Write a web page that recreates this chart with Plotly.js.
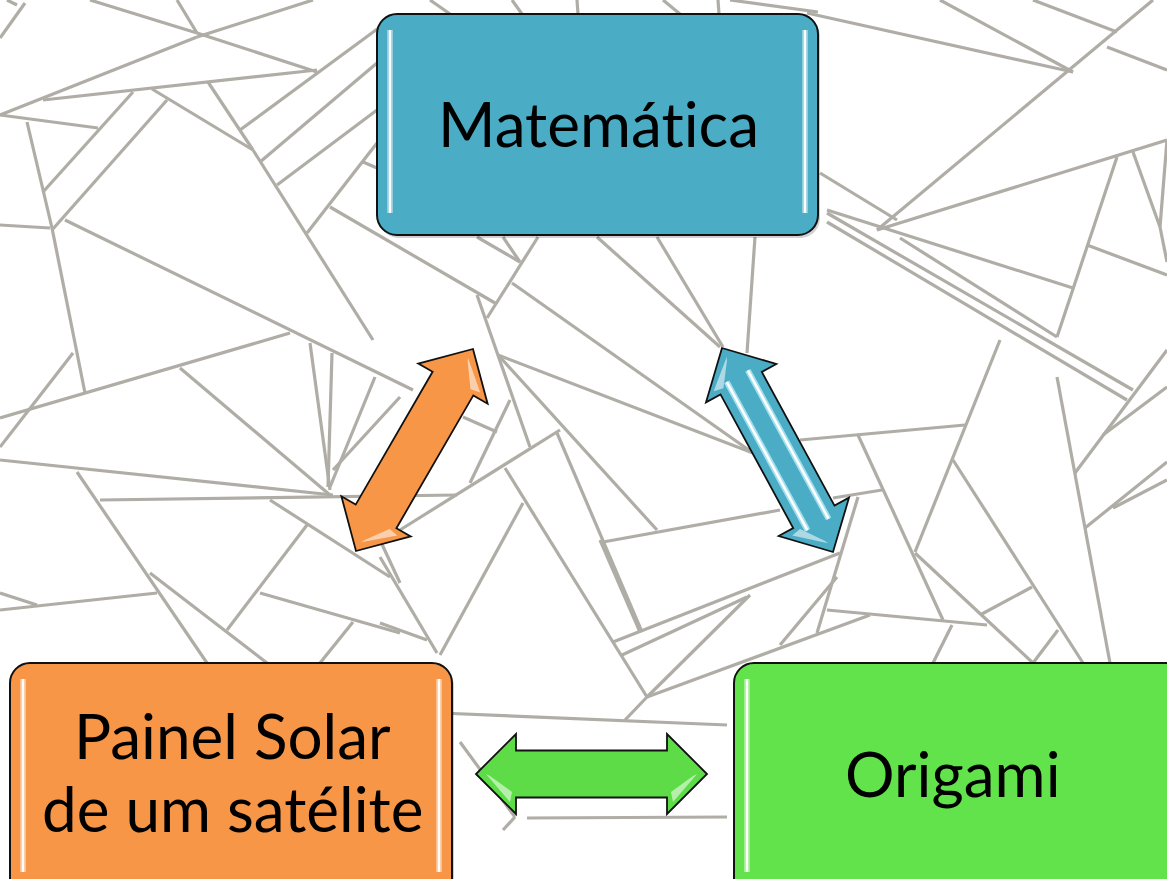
<!DOCTYPE html>
<html>
<head>
<meta charset="utf-8">
<script src="https://cdn.plot.ly/plotly-3.0.1.min.js"></script>
<style>
  html, body { margin: 0; padding: 0; background: #ffffff; }
  #chart { width: 1167px; height: 879px; }
  svg text { font-variant-ligatures: none !important; font-feature-settings: "liga" 0, "clig" 0, "calt" 0, "dlig" 0 !important; letter-spacing: 0.02px !important; }
</style>
</head>
<body>
<div id="chart"></div>
<script>
// ---------------- data ----------------
const boxLabels = ['Matemática', 'Painel Solar<br>de um satélite', 'Origami'];
const boxColors = ['#4BACC6', '#F79646', '#63E34B'];
const boxX0 = [377, 10, 734];
const boxX1 = [818, 452, 1195];
const boxY0 = [14, 663, 663];
const boxY1 = [235, 905, 905];
const labelX = [598, 232, 953];
const labelY = [123, 771, 773];

// double-headed arrows: tip 1 -> tip 2
const arrowX0 = [356, 722, 476];
const arrowY0 = [551, 348, 774];
const arrowX1 = [473, 833, 707];
const arrowY1 = [349, 552, 774];
const arrowColors = ['#F79646', '#4BACC6', '#5EDC48'];

// background crease pattern segments [x0, y0, x1, y1]
const creaseSegments = [
  [7,0,17,5],[0,38,25,3],[90,0,197,33],[197,33,317,72],[177,0,197,33],
  [0,115,197,37],[197,37,313,0],[43,100,317,70],[0,115,98,128],
  [27,122,52,228],[52,228,85,393],[43,192,133,92],[52,230,167,100],
  [0,225,50,228],[65,220,413,390],[152,89,253,150],[208,82,253,150],
  [253,150,373,340],[240,130,380,27],[260,162,377,63],[277,185,377,110],
  [307,233,377,143],[330,207,495,303],[363,162,377,168],
  [430,0,450,14],[512,0,522,14],[577,0,578,14],[663,0,680,14],[718,0,719,14],[730,0,818,12],
  [807,13,1073,72],[940,0,1073,72],[1033,0,1117,32],[1153,0,877,230],
  [1107,47,1167,70],[820,173,897,220],[877,230,1167,140],[827,210,1073,288],
  [900,238,1057,337],[827,213,1133,390],[827,222,1127,400],[1117,157,1057,337],
  [1133,152,1160,227],[1167,140,1160,227],[1160,227,1167,262],[1087,245,1167,275],
  [1167,350,1075,473],[1167,387,1103,435],[1167,462,1085,528],[1167,480,1113,508],
  [1057,377,1110,663],[1000,340,915,552],[800,440,965,425],[858,435,943,620],
  [953,460,1083,663],[915,553,1033,663],[980,615,1032,587],[827,610,987,625],
  [833,498,882,490],[858,497,817,633],[780,645,837,577],
  [952,625,933,663],[1058,630,1033,663],
  [477,237,520,262],[503,237,520,262],[538,237,487,318],[512,283,753,453],
  [477,295,530,447],[597,237,720,347],[657,237,723,347],[755,237,747,353],
  [498,355,753,453],[500,357,657,530],[510,400,470,483],[463,417,497,432],
  [560,430,400,530],[557,433,642,632],[505,468,647,697],[603,542,780,510],
  [523,503,440,655],[380,557,437,653],[380,623,427,640],
  [600,540,640,632],[613,642,840,553],[622,655,747,597],[647,697,750,595],
  [647,697,870,615],[647,697,625,720],[440,713,727,725],
  [527,818,727,817],[460,742,515,817],[515,817,503,830],
  [0,418,290,333],[0,447,73,353],[180,368,330,495],[310,343,330,490],
  [332,353,328,487],[375,377,330,487],[400,397,333,470],[0,460,333,495],
  [100,500,457,495],[77,472,207,663],[270,500,390,577],[307,525,227,630],
  [150,573,267,663],[0,593,37,605],[0,610,157,593],[260,593,400,633],
  [353,622,320,663],[380,540,400,583]
];

// ---------------- helpers ----------------
function roundRect(x0, y0, x1, y1, r) {
  const k = 0.5523 * r;
  return `M${x0 + r},${y0} L${x1 - r},${y0} C${x1 - r + k},${y0} ${x1},${y0 + r - k} ${x1},${y0 + r} ` +
         `L${x1},${y1 - r} C${x1},${y1 - r + k} ${x1 - r + k},${y1} ${x1 - r},${y1} ` +
         `L${x0 + r},${y1} C${x0 + r - k},${y1} ${x0},${y1 - r + k} ${x0},${y1 - r} ` +
         `L${x0},${y0 + r} C${x0},${y0 + r - k} ${x0 + r - k},${y0} ${x0 + r},${y0} Z`;
}
function arrowGeom(ax, ay, bx, by) {
  const dx = bx - ax, dy = by - ay, len = Math.hypot(dx, dy);
  const u = [dx / len, dy / len], n = [-u[1], u[0]];
  return { u, n, len };
}
function pt(x, y, u, n, a, b) { return [x + u[0] * a + n[0] * b, y + u[1] * a + n[1] * b]; }
function polyPath(P) { return 'M' + P.map(p => p[0].toFixed(1) + ',' + p[1].toFixed(1)).join(' L') + ' Z'; }
function arrowPath(ax, ay, bx, by, L, H, W) {
  const { u, n, len } = arrowGeom(ax, ay, bx, by);
  return polyPath([
    [ax, ay],
    pt(ax, ay, u, n, L, H), pt(ax, ay, u, n, L, W),
    pt(ax, ay, u, n, len - L, W), pt(ax, ay, u, n, len - L, H),
    [bx, by],
    pt(ax, ay, u, n, len - L, -H), pt(ax, ay, u, n, len - L, -W),
    pt(ax, ay, u, n, L, -W), pt(ax, ay, u, n, L, -H)
  ]);
}

// ---------------- traces ----------------
const lx = [], ly = [];
creaseSegments.forEach(s => { lx.push(s[0], s[2], null); ly.push(s[1], s[3], null); });
const traces = [{
  type: 'scatter', mode: 'lines', x: lx, y: ly, hoverinfo: 'skip',
  line: { color: '#AFADA6', width: 3.2 }
}];

// ---------------- shapes ----------------
const shapes = [];
boxLabels.forEach((lab, i) => {
  shapes.push({ type: 'path', xref: 'x', yref: 'y', layer: 'above',
    path: roundRect(boxX0[i] + 2, boxY0[i] + 3, boxX1[i] + 2, boxY1[i] + 3, 20),
    fillcolor: 'rgba(0,0,0,0.18)', line: { width: 0 } });
  shapes.push({ type: 'path', xref: 'x', yref: 'y', layer: 'above',
    path: roundRect(boxX0[i], boxY0[i], boxX1[i], boxY1[i], 20),
    fillcolor: boxColors[i], line: { color: '#111111', width: 2 } });
  const hy0 = boxY0[i] + 16, hy1 = Math.min(boxY1[i] - 22, 872);
  [boxX0[i] + 13, boxX1[i] - 13].forEach(hx => {
    shapes.push({ type: 'line', xref: 'x', yref: 'y', layer: 'above',
      x0: hx, x1: hx, y0: hy0, y1: hy1, line: { color: 'rgba(255,255,255,0.4)', width: 6 } });
    shapes.push({ type: 'line', xref: 'x', yref: 'y', layer: 'above',
      x0: hx, x1: hx, y0: hy0, y1: hy1, line: { color: 'rgba(255,255,255,0.95)', width: 2.5 } });
  });
});

arrowColors.forEach((c, i) => {
  shapes.push({ type: 'path', xref: 'x', yref: 'y', layer: 'above',
    path: arrowPath(arrowX0[i], arrowY0[i], arrowX1[i], arrowY1[i], 40, 40, 23.5),
    fillcolor: c, line: { color: '#111111', width: 1.8 } });
  const { u, n, len } = arrowGeom(arrowX0[i], arrowY0[i], arrowX1[i], arrowY1[i]);
  [[0, 1], [len, -1]].forEach(([base, dir]) => {
    const P = [
      pt(arrowX0[i], arrowY0[i], u, n, base + dir * 10, 0),
      pt(arrowX0[i], arrowY0[i], u, n, base + dir * 34, 28),
      pt(arrowX0[i], arrowY0[i], u, n, base + dir * 36, 18),
      pt(arrowX0[i], arrowY0[i], u, n, base + dir * 14, 2)
    ];
    shapes.push({ type: 'path', xref: 'x', yref: 'y', layer: 'above',
      path: polyPath(P), fillcolor: 'rgba(255,255,255,0.55)', line: { width: 0 } });
  });
});
(function () {
  const i = 1;
  const { u, n } = arrowGeom(arrowX0[i], arrowY0[i], arrowX1[i], arrowY1[i]);
  [-12, 12].forEach(off => {
    const p0 = pt(arrowX0[i], arrowY0[i], u, n, 32, off);
    const p1 = pt(arrowX0[i], arrowY0[i], u, n, 201, off);
    shapes.push({ type: 'line', xref: 'x', yref: 'y', layer: 'above',
      x0: p0[0], y0: p0[1], x1: p1[0], y1: p1[1], line: { color: 'rgba(200,245,255,0.7)', width: 6 } });
    shapes.push({ type: 'line', xref: 'x', yref: 'y', layer: 'above',
      x0: p0[0], y0: p0[1], x1: p1[0], y1: p1[1], line: { color: '#FFFFFF', width: 2.5 } });
  });
})();

// ---------------- annotations ----------------
const annotations = [];
boxLabels.forEach((lab, i) => {
  const lines = lab.split('<br>');
  const lh = 73;
  lines.forEach((t, j) => {
    annotations.push({
      xref: 'x', yref: 'y', x: labelX[i], y: labelY[i] + (j - (lines.length - 1) / 2) * lh,
      text: t, showarrow: false, xanchor: 'center', yanchor: 'middle',
      font: { family: 'Lato, "Open Sans", sans-serif', size: 62, color: '#000000' }
    });
  });
});

const layout = {
  width: 1167, height: 879,
  margin: { l: 0, r: 0, t: 0, b: 0, pad: 0 },
  paper_bgcolor: '#ffffff', plot_bgcolor: '#ffffff',
  showlegend: false,
  xaxis: { range: [0, 1167], visible: false, fixedrange: true },
  yaxis: { range: [879, 0], visible: false, fixedrange: true },
  shapes, annotations
};

Plotly.newPlot('chart', traces, layout, { staticPlot: true, displayModeBar: false });
</script>
</body>
</html>
